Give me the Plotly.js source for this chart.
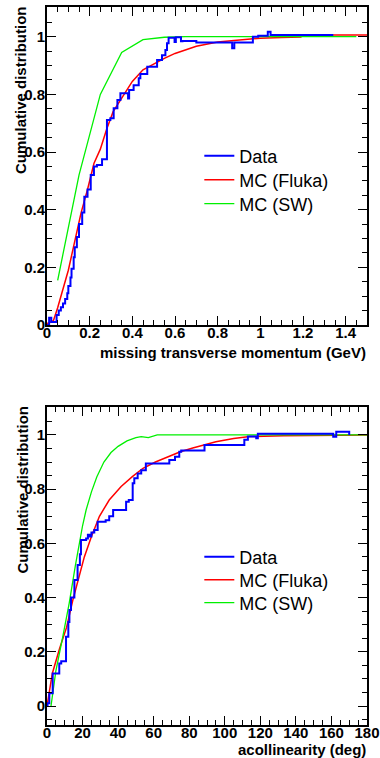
<!DOCTYPE html>
<html>
<head>
<meta charset="utf-8">
<script src="https://cdn.plot.ly/plotly-3.0.1.min.js"></script>
<style>html,body{margin:0;padding:0;background:#fff;}#plot{width:380px;height:758px;}</style>
</head>
<body>
<div id="plot"></div>
<script>
// ---------- Top panel: missing transverse momentum (GeV) ----------
const ptDataX = [0,0.01,0.02,0.045,0.055,0.065,0.075,0.085,0.095,0.1,0.11,0.115,0.125,0.13,0.14,0.15,0.165,0.175,0.19,0.205,0.22,0.234,0.258,0.281,0.297,0.3125,0.33,0.344,0.38,0.385,0.406,0.43,0.4375,0.47,0.508,0.516,0.539,0.555,0.5625,0.57,0.598,0.604,0.628,0.635,0.70,0.868,0.878,0.965,0.99,1.035,1.048,1.342];
const ptDataY = [0,0.025,0.01,0.035,0.05,0.062,0.075,0.09,0.11,0.135,0.165,0.195,0.235,0.27,0.305,0.35,0.39,0.445,0.47,0.52,0.55,0.555,0.575,0.711,0.717,0.752,0.78,0.804,0.786,0.815,0.832,0.856,0.871,0.896,0.896,0.919,0.936,0.954,0.977,0.996,0.982,0.998,0.984,0.985,0.98,0.96,0.98,1.0,1.003,1.017,1.006,1.006];
const ptFlukaX = [0,0.03,0.05,0.07,0.1,0.13,0.16,0.19,0.22,0.25,0.28,0.31,0.35,0.4,0.45,0.5,0.55,0.6,0.65,0.7,0.8,0.9,1.0,1.1,1.19,1.2,1.5];
const ptFlukaY = [0.005,0.015,0.06,0.11,0.19,0.29,0.39,0.47,0.56,0.61,0.68,0.74,0.785,0.845,0.885,0.905,0.925,0.942,0.955,0.967,0.982,0.989,0.995,0.997,0.999,1.006,1.006];
const ptSWX = [0.05,0.15,0.25,0.35,0.45,0.55,0.65,0.75,0.85,0.95,1.05,1.15,1.25,1.35,1.45];
const ptSWY = [0.155,0.52,0.80,0.945,0.99,0.998,1.0,1.0,1.0,1.0,1.0,1.0,1.0,1.0,1.0];

// ---------- Bottom panel: acollinearity (deg) ----------
const acoDataX = [0,0.3,1.3,3.2,6.9,8,10.7,12,12.6,13.5,15.4,17.2,18.5,19.1,22,23,24,25,26.6,28.5,33,35,37.2,44.5,46,48.2,49.1,51,53,55.6,68.8,72,74.4,75.5,88.6,111,113,117.7,118.6,161,162.7,170];
const acoDataY = [0,0.01,0.047,0.12,0.157,0.165,0.256,0.31,0.354,0.40,0.465,0.52,0.56,0.612,0.618,0.632,0.625,0.64,0.649,0.68,0.685,0.70,0.723,0.754,0.76,0.822,0.84,0.858,0.87,0.895,0.908,0.92,0.938,0.943,0.963,0.982,0.994,0.988,1.004,0.993,1.012,1.0];
const acoFlukaX = [0,3,7,11,14.5,18,21,25,29.5,35,41.7,48,54,61,68,75,82,88,95,105,114,133,150,180];
const acoFlukaY = [0,0.12,0.21,0.29,0.39,0.48,0.55,0.625,0.70,0.76,0.81,0.846,0.877,0.90,0.92,0.938,0.952,0.963,0.975,0.987,0.994,0.997,0.999,1.0];
const acoSWX = [2.25,5,9,12.5,16,18,20,22,25,28,32,36,40,45,50,53,57,62,180];
const acoSWY = [0,0.13,0.26,0.38,0.52,0.60,0.665,0.723,0.79,0.845,0.90,0.935,0.958,0.978,0.99,0.994,0.99,1.0,1.0];

const ptTicks = [0,0.2,0.4,0.6,0.8,1,1.2,1.4];
const acoTicks = [0,20,40,60,80,100,120,140,160,180];
const yTicks = [0,0.2,0.4,0.6,0.8,1];

const seriesNames = ['Data','MC (Fluka)','MC (SW)'];
const colors = ['#0000ff','#ff0000','#00f000'];

const traces = [
  {x: ptFlukaX, y: ptFlukaY, name: seriesNames[1], legend: 'legend2', xaxis:'x', yaxis:'y', mode:'lines', line:{color:colors[1], width:1.5}},
  {x: ptSWX, y: ptSWY, name: seriesNames[2], legend: 'legend3', xaxis:'x', yaxis:'y', mode:'lines', line:{color:colors[2], width:1.3}},
  {x: ptDataX, y: ptDataY, name: seriesNames[0], legend: 'legend', xaxis:'x', yaxis:'y', mode:'lines', line:{color:colors[0], width:2, shape:'hv'}},
  {x: acoFlukaX, y: acoFlukaY, name: seriesNames[1], legend: 'legend5', xaxis:'x2', yaxis:'y2', mode:'lines', line:{color:colors[1], width:1.5}},
  {x: acoSWX, y: acoSWY, name: seriesNames[2], legend: 'legend6', xaxis:'x2', yaxis:'y2', mode:'lines', line:{color:colors[2], width:1.3}},
  {x: acoDataX, y: acoDataY, name: seriesNames[0], legend: 'legend4', xaxis:'x2', yaxis:'y2', mode:'lines', line:{color:colors[0], width:2, shape:'hv'}}
];

const FONT = 'Liberation Sans, Arial, Helvetica, sans-serif';
const tickFont = {family: FONT, size: 15, color: '#000', weight: 'bold'};

function axisBase(extra) {
  return Object.assign({
    showgrid: false, zeroline: false,
    showline: true, linecolor: '#000', linewidth: 2, mirror: 'allticks',
    ticks: 'inside', ticklen: 9, tickwidth: 1, tickcolor: '#000',
    tickfont: tickFont,
    fixedrange: true
  }, extra);
}
function minorTicks(d) {
  return {ticks:'inside', ticklen:5, tickwidth:1, tickcolor:'#000', dtick:d, tick0:0};
}

// one legend box per entry so the row spacing matches the reference
const PLOT_TOP = 7, PLOT_H = 718;
function legendAt(rowY) {
  return {
    font: {family: FONT, size: 18, color: '#000'},
    bgcolor: 'rgba(255,255,255,0)', borderwidth: 0,
    x: 0.476, xanchor: 'left',
    y: (PLOT_TOP + PLOT_H - rowY) / PLOT_H, yanchor: 'middle'
  };
}

const layout = {
  width: 380, height: 758,
  margin: {l: 47, r: 13, t: 7, b: 33},
  paper_bgcolor: '#fff', plot_bgcolor: '#fff',
  showlegend: true,
  xaxis: axisBase({domain:[0,1], range:[0,1.5], tickvals: ptTicks, ticktext: ptTicks.map(String), anchor:'y', ticklabelstandoff:-7, minor: minorTicks(0.05)}),
  yaxis: axisBase({domain:[0.5571,1], range:[0,1.103], tickvals: yTicks, ticktext: yTicks.map(String), anchor:'x', ticklabelstandoff:-3, minor: minorTicks(0.05)}),
  xaxis2: axisBase({domain:[0,1], range:[0,180], tickvals: acoTicks, ticktext: acoTicks.map(String), anchor:'y2', ticklabelstandoff:-7, minor: minorTicks(5)}),
  yaxis2: axisBase({domain:[0,0.4425], range:[-0.07,1.102], tickvals: yTicks, ticktext: yTicks.map(String), anchor:'x2', ticklabelstandoff:-3, minor: minorTicks(0.05)}),
  legend: legendAt(156),
  legend2: legendAt(180),
  legend3: legendAt(204),
  legend4: legendAt(557),
  legend5: legendAt(580),
  legend6: legendAt(603),
  annotations: [
    {text: 'missing transverse momentum (GeV)', xref:'paper', yref:'paper', x: (368-47)/320, y: (725-352)/718, xanchor:'right', yanchor:'middle', showarrow:false, font:{family:FONT, size:15, color:'#000', weight:'bold'}},
    {text: 'acollinearity (deg)', xref:'paper', yref:'paper', x: (368-47)/320, y: (725-750)/718, xanchor:'right', yanchor:'middle', showarrow:false, font:{family:FONT, size:15, color:'#000', weight:'bold'}},
    {text: 'Cumulative distribution', xref:'paper', yref:'paper', x: (20-47)/320, y: (725-4)/718, xanchor:'center', yanchor:'top', textangle:-90, showarrow:false, font:{family:FONT, size:15, color:'#000', weight:'bold'}},
    {text: 'Cumulative distribution', xref:'paper', yref:'paper', x: (21.5-47)/320, y: (725-404)/718, xanchor:'center', yanchor:'top', textangle:-90, showarrow:false, font:{family:FONT, size:15, color:'#000', weight:'bold'}}
  ]
};

Plotly.newPlot('plot', traces, layout, {staticPlot: true, displayModeBar: false});
</script>
</body>
</html>
